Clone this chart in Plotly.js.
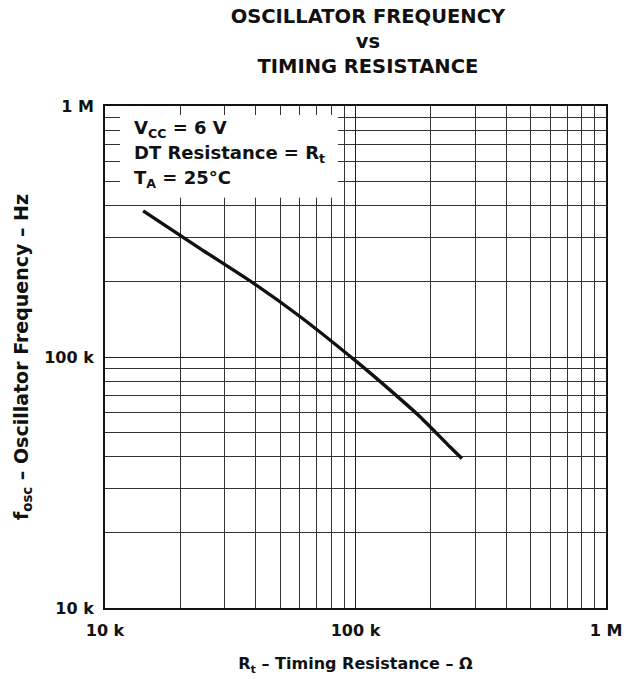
<!DOCTYPE html>
<html>
<head>
<meta charset="utf-8">
<script src="https://cdn.plot.ly/plotly-3.0.1.min.js"></script>
<style>html,body{margin:0;padding:0;background:#fff;}</style>
</head>
<body>
<div id="chart" style="width:631px;height:679px;"></div>
<script>
// Timing resistance (ohms) and oscillator frequency (Hz)
const resistance = [14.2e3, 23.9e3, 39.1e3, 60e3, 101e3, 140e3, 181e3, 238e3, 266e3];
const frequency  = [382e3, 271e3, 197e3, 145e3, 95.8e3, 72.6e3, 57.8e3, 43.9e3, 39.4e3];

const xTickVals = [1e4, 1e5, 1e6];
const xTickText = ['10 k', '100 k', '1 M'];
const yTickVals = [1e4, 1e5, 1e6];
const yTickText = ['10 k', '100 k', '1 M'];

const FONT = 'DejaVu Sans, Liberation Sans, Arial, sans-serif';

const trace = {
  x: resistance,
  y: frequency,
  mode: 'lines',
  line: {color: '#111', width: 3.4, shape: 'spline', smoothing: 0.6},
  hoverinfo: 'skip',
  showlegend: false
};

const axisCommon = {
  type: 'log',
  tickmode: 'array',
  showline: true,
  linecolor: '#111',
  linewidth: 2,
  mirror: true,
  showgrid: true,
  gridcolor: '#222',
  gridwidth: 1,
  ticks: '',
  zeroline: false,
  tickfont: {family: FONT, size: 16, color: '#111', weight: 'bold'},
  minor: {dtick: 'D1', showgrid: true, gridcolor: '#333', gridwidth: 1, ticks: ''}
};

const layout = {
  width: 631,
  height: 679,
  margin: {l: 105, r: 25, t: 106, b: 71},
  paper_bgcolor: '#fff',
  plot_bgcolor: '#fff',
  font: {family: FONT, color: '#111'},
  title: {
    text: '<b>OSCILLATOR FREQUENCY</b><br><b>vs</b><br><b>TIMING RESISTANCE</b>',
    font: {family: FONT, size: 19.5, color: '#111'},
    xref: 'container', x: 0.583, xanchor: 'center',
    yref: 'container', y: 0.9666, yanchor: 'top'
  },
  xaxis: Object.assign({}, axisCommon, {
    range: [4, 6],
    tickvals: xTickVals,
    ticktext: xTickText,
    ticklabelstandoff: 7,
    title: {
      text: '<b>R<sub>t</sub> – Timing Resistance – Ω</b>',
      font: {family: FONT, size: 16, color: '#111'},
      standoff: 19
    }
  }),
  yaxis: Object.assign({}, axisCommon, {
    range: [4, 6],
    tickvals: yTickVals,
    ticktext: yTickText,
    ticklabelstandoff: 6,
    title: {
      text: '<b>f<sub>osc</sub> – Oscillator Frequency – Hz</b>',
      font: {family: FONT, size: 19, color: '#111'},
      standoff: 11
    }
  }),
  shapes: [{
    type: 'rect', xref: 'paper', yref: 'paper',
    x0: 0.030, x1: 0.465, y0: 0.817, y1: 0.982,
    fillcolor: '#fff', line: {width: 0}, layer: 'above'
  }],
  annotations: [
    {text: '<b>V<sub>CC</sub> = 6 V</b>', xref: 'paper', yref: 'paper', x: 0.054, y: 0.955,
     xanchor: 'left', yanchor: 'middle', showarrow: false, font: {family: FONT, size: 18, color: '#111'}},
    {text: '<b>DT Resistance = R<sub>t</sub></b>', xref: 'paper', yref: 'paper', x: 0.054, y: 0.905,
     xanchor: 'left', yanchor: 'middle', showarrow: false, font: {family: FONT, size: 18, color: '#111'}},
    {text: '<b>T<sub>A</sub> = 25°C</b>', xref: 'paper', yref: 'paper', x: 0.054, y: 0.855,
     xanchor: 'left', yanchor: 'middle', showarrow: false, font: {family: FONT, size: 18, color: '#111'}}
  ]
};

Plotly.newPlot('chart', [trace], layout, {displayModeBar: false, staticPlot: true});
</script>
</body>
</html>
